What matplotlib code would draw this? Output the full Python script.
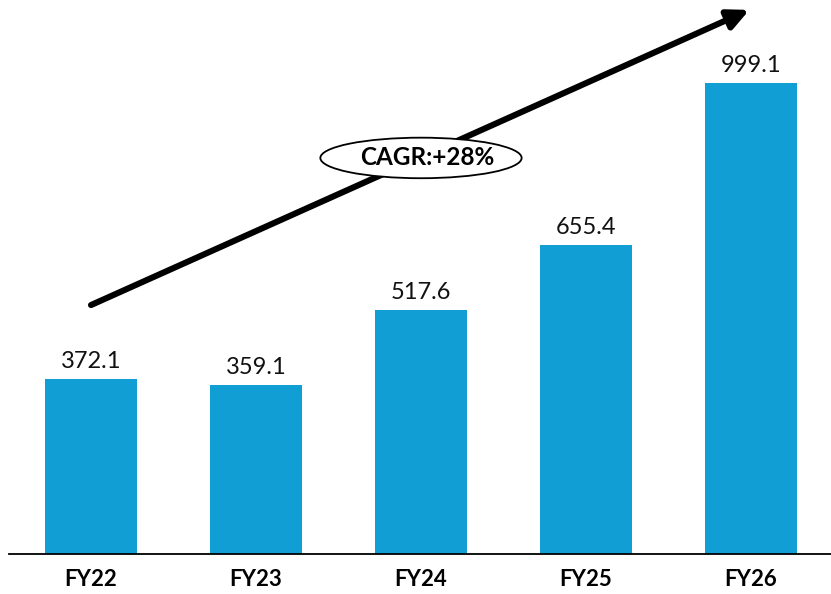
import matplotlib
matplotlib.use("Agg")
import matplotlib.pyplot as plt
from matplotlib.patches import Ellipse

years = ["FY22", "FY23", "FY24", "FY25", "FY26"]
values = [372.1, 359.1, 517.6, 655.4, 999.1]
cagr_text = "CAGR:+28%"

BAR_COLOR = "#119ED5"
FONT = ["Lato", "DejaVu Sans"]

fig = plt.figure(figsize=(8.31, 5.94), dpi=100)
ax = fig.add_axes([9 / 831, 40 / 594, 822 / 831, 554 / 594])

xs = list(range(len(years)))
ax.bar(xs, values, width=0.56, color=BAR_COLOR, zorder=2)
for x, v in zip(xs, values):
    ax.text(x, v + 14, f"{v:.1f}", ha="center", va="bottom",
            fontsize=17, family=FONT, color="#111111")

ax.set_xlim(-0.497, 4.485)
ax.set_ylim(0, 1175)
ax.set_xticks(xs)
ax.set_xticklabels(years, fontsize=16, fontweight="bold", family=FONT)
ax.tick_params(axis="x", length=0, pad=11)
ax.set_yticks([])
for side in ("top", "right", "left"):
    ax.spines[side].set_visible(False)
ax.spines["bottom"].set_linewidth(1.3)
ax.spines["bottom"].set_color("#000000")

# growth arrow with CAGR badge
ax.annotate("", xy=(3.99, 1154), xytext=(0.0, 528),
            arrowprops=dict(arrowstyle="-|>,head_length=1.25,head_width=0.6",
                            color="black", lw=4.4, shrinkA=0, shrinkB=0),
            annotation_clip=False, zorder=3)
ax.add_patch(Ellipse((2.0, 840), width=1.22, height=86,
                     facecolor="white", edgecolor="black", lw=1.3,
                     zorder=4, clip_on=False))
ax.text(2.04, 840, cagr_text, ha="center", va="center", fontsize=17.5,
        fontweight="bold", family=FONT, zorder=5)

fig.savefig("out.png", facecolor="white")
